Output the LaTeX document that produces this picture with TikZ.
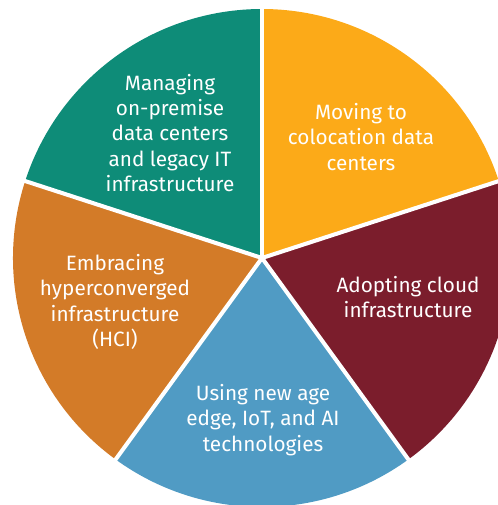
\documentclass[tikz,border=0pt]{standalone}
\usepackage{fontspec}
\setmainfont{Fira Sans}
\usepackage{tikz}
\usetikzlibrary{positioning}

\definecolor{sliceteal}{RGB}{14,140,120}
\definecolor{slicegold}{RGB}{252,170,24}
\definecolor{slicewine}{RGB}{123,29,44}
\definecolor{sliceblue}{RGB}{80,155,196}
\definecolor{sliceorange}{RGB}{211,123,40}

\tikzset{
  label/.style={text=white, align=center,
                font=\fontsize{11.8}{14.5}\selectfont},
  gap/.style={white, line width=2.3pt}
}

\begin{document}
\begin{tikzpicture}[x=0.02cm, y=0.02cm]
\useasboundingbox (0,0) rectangle (498,505);
\clip (0,0) rectangle (498,505);
\coordinate (ctr) at (262,247);

\foreach \a/\clr in {90/sliceteal, 18/slicegold, -54/slicewine,
                     -126/sliceblue, 162/sliceorange}
  \fill[\clr] (ctr) -- ++(\a:249) arc (\a:\a+72:249) -- cycle;

\foreach \a in {90,18,-54,-126,162}
  \draw[gap] (ctr) -- ++(\a:256);

\node[label] (manage) at (170,372) {Managing\\on-premise\\data centers\\and legacy IT\\infrastructure};
\node[label] (colo)   at (361,368) {Moving to\\colocation data\\centers};
\node[label] (cloud)  at (408,208) {Adopting cloud\\infrastructure};
\node[label] (hci)    at (115,203) {Embracing\\hyperconverged\\infrastructure\\(HCI)};
\node[label] (edge)   at (263,85)  {Using new age\\edge, IoT, and AI\\technologies};
\end{tikzpicture}
\end{document}
